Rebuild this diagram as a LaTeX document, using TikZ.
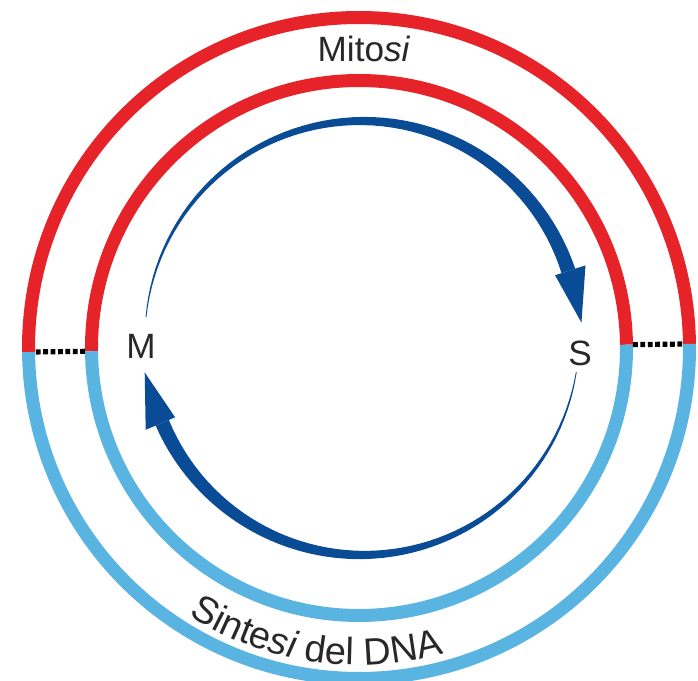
\documentclass[tikz,border=0pt]{standalone}
\usepackage{fontspec}
\setmainfont{Liberation Sans}
\usetikzlibrary{decorations.text}
\definecolor{mitred}{RGB}{230,35,40}
\definecolor{synblue}{RGB}{90,180,225}
\definecolor{cycleblue}{RGB}{10,75,150}
\definecolor{labelgray}{RGB}{40,40,40}
\newcommand{\lblsize}{\fontsize{25}{30}\selectfont\color{labelgray}}
\newcommand{\arcsize}{\fontsize{27}{32}\selectfont\color{labelgray}}

\begin{document}
\begin{tikzpicture}[x=0.025cm, y=0.025cm,
  mitosisring/.style={draw=mitred, line width=0.325cm},
  synthring/.style={draw=synblue, line width=0.325cm},
  divider/.style={draw=black, line width=0.13cm, dash pattern=on 0.12cm off 0.065cm},
  cyclearrow/.style={fill=cycleblue},
  phaselabel/.style={font=\lblsize, inner sep=1pt}
]
  \useasboundingbox (-359,-333) rectangle (339,348);

  % rings: mitosis on top, DNA synthesis below
  \foreach \r in {330.5, 267.5} {
    \draw[mitosisring] (0.7:\r) arc[start angle=0.7, end angle=180.7, radius=\r];
    \draw[synthring] (180.7:\r) arc[start angle=180.7, end angle=360.7, radius=\r];
  }
  \draw[divider] (0.7:274) -- (0.7:324);
  \draw[divider] (180.7:274) -- (180.7:324);

  % tapered cycle arrows
  \begin{scope}[shift={(3,10)}]
    \foreach \a/\b/\t in {174.5/18/4, -9/-157/-171} {
      \fill[cyclearrow] plot[domain=\a:\b, samples=60] (\x:{217+0.4+6.8*(\x-(\a))/((\b)-(\a))})
        -- plot[domain=\b:\a, samples=60] (\x:{217-0.4-6.8*(\x-(\a))/((\b)-(\a))}) -- cycle;
      \fill[cyclearrow] (\b:203) -- (\t:220) -- (\b:235) -- cycle;
    }
  \end{scope}

  \node[phaselabel] (mlabel) at (-218,2) {M};
  \node[phaselabel] (slabel) at (221,-5) {S};
  \node[phaselabel] (mitosis) at (5,299) {Mito\textit{si}};

  \path[decorate, decoration={text along path, text align=center,
      text={|\arcsize|Sinte|\arcsize\itshape|si |\arcsize|del DNA}}]
    (200:317) arc[start angle=200, end angle=323, radius=317];
\end{tikzpicture}
\end{document}
